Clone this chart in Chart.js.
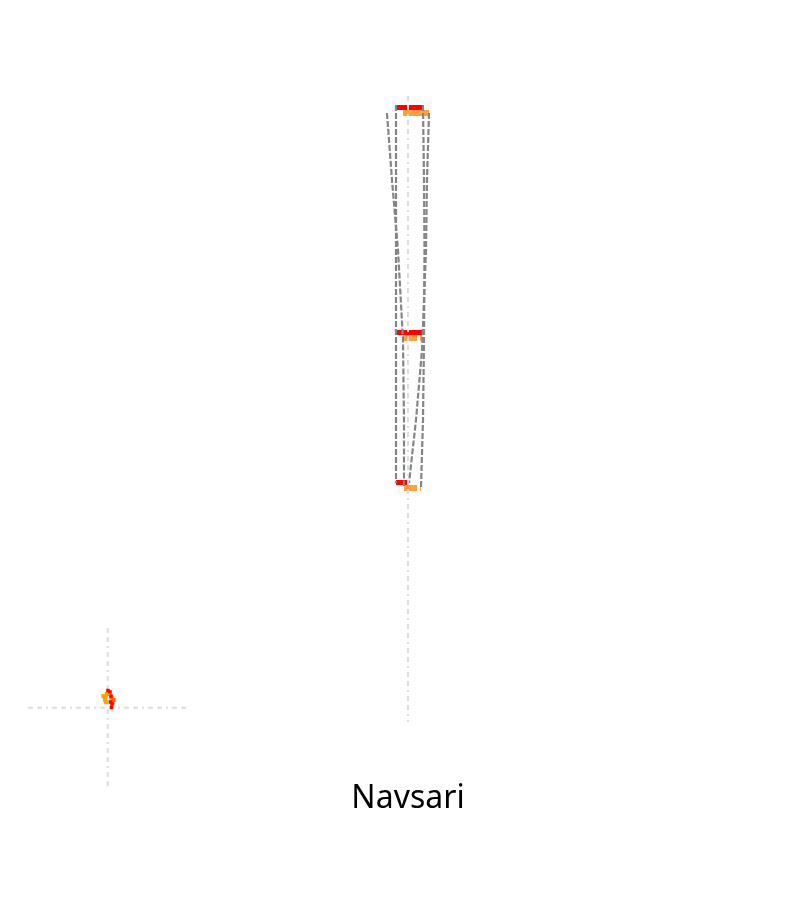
<!DOCTYPE html>
<html><head><meta charset="utf-8">
<script src="https://cdn.jsdelivr.net/npm/chart.js@4/dist/chart.umd.min.js"></script>
<style>html,body{margin:0;padding:0;background:#fff}#wrap{width:800px;height:900px}</style>
</head><body><div id="wrap"><canvas id="c" width="800" height="900"></canvas></div>
<script>
const chartTitle = 'Navsari';

// Red bars (start, end, level)
const redStarts = [39.6, 39.6, 39.6];
const redEnds   = [42.3, 42.3, 40.8];
const redLevels = [10.75, 33.25, 48.25];

// Orange bars (start, end, level)
const orangeStarts = [40.3, 40.3, 42.0, 40.4, 42.0];
const orangeEnds   = [42.9, 41.7, 42.2, 41.7, 42.1];
const orangeLevels = [11.3, 33.8, 33.8, 48.8, 48.8];

// Dashed link lines
const linkAx = [38.7, 39.2, 39.8, 40.3, 40.4, 40.4];
const linkAy = [11.3, 18.0, 25.0, 34.0, 42.0, 48.6];
const linkBx = [39.6, 39.6];
const linkBy = [10.5, 48.3];
const linkCx = [42.3, 42.4, 42.45, 42.4, 42.3, 42.1];
const linkCy = [10.5, 18.0, 25.0, 34.0, 42.0, 48.8];
const linkDx = [42.9, 42.7, 42.6, 42.2, 41.6, 40.9];
const linkDy = [11.3, 18.0, 25.0, 35.0, 42.0, 48.3];

// Reference axis line
const axisX = [40.8, 40.8];
const axisY = [9.6, 72.2];

// Inset crosshair
const crossHx = [2.8, 18.8];
const crossHy = [70.77, 70.77];
const crossVx = [10.77, 10.77];
const crossVy = [62.8, 78.7];

// Inset cluster points
const clusterRedX = [10.8, 11.0, 11.1, 11.2, 11.15, 11.05];
const clusterRedY = [69.05, 69.2, 69.6, 70.4, 70.75, 70.2];
const clusterOrangeX = [10.35, 10.5, 10.6, 10.7, 10.55];
const clusterOrangeY = [69.6, 69.95, 70.2, 69.4, 69.7];
const clusterDarkOrangeX = [11.15, 11.35, 11.25];
const clusterDarkOrangeY = [69.75, 70.0, 70.25];

const pts = (xs, ys) => xs.map((x, i) => ({x, y: ys[i]}));
const datasets = [];

function lineDS(xs, ys, color, width, dash, extra) {
  return Object.assign({
    data: pts(xs, ys), showLine: true, borderColor: color, borderWidth: width,
    borderDash: dash || [], pointRadius: 0, tension: 0, clip: false, borderCapStyle: 'butt'
  }, extra || {});
}

// top-most layers first
datasets.push(lineDS(axisX, axisY, '#dcdcdc', 2, [5, 4, 5, 4, 2, 4]));
[[linkAx, linkAy], [linkBx, linkBy], [linkCx, linkCy], [linkDx, linkDy]].forEach(([xs, ys]) => {
  datasets.push(lineDS(xs, ys, '#858585', 2.2, [6, 2]));
});
redStarts.forEach((s, i) => {
  datasets.push(lineDS([s, redEnds[i]], [redLevels[i], redLevels[i]], '#ff0000', 5));
});
orangeStarts.forEach((s, i) => {
  datasets.push(lineDS([s, orangeEnds[i]], [orangeLevels[i], orangeLevels[i]], '#ff9f40', 6));
});
datasets.push({data: pts(clusterRedX, clusterRedY), pointRadius: 2.5, pointStyle: 'rect', backgroundColor: '#ff0000', borderWidth: 0, clip: false});
datasets.push({data: pts(clusterDarkOrangeX, clusterDarkOrangeY), pointRadius: 3, pointStyle: 'rect', backgroundColor: '#ff6a00', borderWidth: 0, clip: false});
datasets.push({data: pts(clusterOrangeX, clusterOrangeY), pointRadius: 3, pointStyle: 'rect', backgroundColor: '#ffa500', borderWidth: 0, clip: false});
datasets.push(lineDS(crossHx, crossHy, '#dcdcdc', 2, [5, 4, 5, 4, 2, 4]));
datasets.push(lineDS(crossVx, crossVy, '#dcdcdc', 2, [5, 4, 5, 4, 2, 4]));

new Chart(document.getElementById('c'), {
  type: 'scatter',
  data: {datasets},
  options: {
    responsive: false, devicePixelRatio: 1, animation: false,
    layout: {padding: {left: 16, right: 0, top: 0, bottom: 0}, autoPadding: false},
    scales: {
      x: {type: 'linear', min: 1.6, max: 80, display: false},
      y: {type: 'linear', min: 0, max: 77.9, reverse: true, display: false}
    },
    plugins: {
      legend: {display: false},
      tooltip: {enabled: false},
      title: {display: true, text: chartTitle, position: 'bottom', color: '#000',
        font: {family: "'Noto Sans', sans-serif", size: 32, weight: 'normal', lineHeight: 1.25},
        padding: {top: 0, bottom: 81}}
    }
  }
});
</script></body></html>
